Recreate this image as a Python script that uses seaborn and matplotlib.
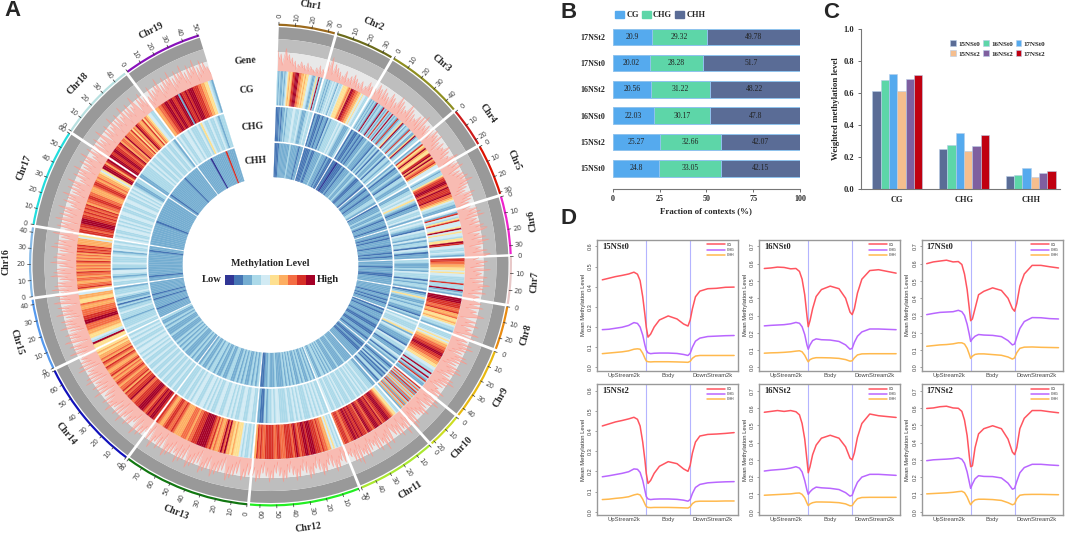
import numpy as np
import pandas as pd
import matplotlib
matplotlib.use("Agg")
import matplotlib.pyplot as plt
from matplotlib.patches import Patch
import seaborn as sns

W, H = 1065, 536
sns.set_style("white")
SERIF = "Liberation Serif"
plt.rcParams["font.family"] = ["Liberation Sans", "DejaVu Sans"]

# ---------- Panel A data ----------
chrom_names = ["Chr%d" % i for i in range(1, 20)]
chrom_start = [2.0, 16.2, 30.9, 50.4, 60.5, 73.5, 88.0, 100.0, 111.1, 129.3, 138.6, 158.5, 185.6, 216.9, 244.6, 262.4, 279.7, 303.9, 323.5]
chrom_end = [15.5, 30.2, 49.7, 59.8, 72.8, 87.4, 99.3, 110.4, 128.6, 137.9, 157.8, 184.9, 216.2, 243.9, 261.7, 279.0, 303.2, 322.8, 342.7]
chrom_mb = [34, 36, 47, 23, 31, 35, 28, 27, 45, 22, 50, 66, 80, 70, 43, 43, 60, 48, 51]
chrom_color = ["#9C6A1C", "#6B6B1B", "#8E8E20", "#CC1A1A", "#DD1100", "#EE22CC", "#E8C8C8", "#E88A10", "#E8B810", "#CCDD22",
               "#AAE830", "#22EE22", "#117711", "#1111BB", "#5599EE", "#88BBE8", "#22DDDD", "#B8E0E0", "#8811BB"]

cg_levels = [
    "3232232345656889997766565544322353932",
    "33232334343243345555676998877665454433",
    "32323293233293238323932328233592423328342259233",
    "2385696558969678644",
    "32335788998798889776543322",
    "4284358444594544355984433432",
    "887766554544333383339232",
    "99988877866755654332",
    "3334545667788998877665544339339328322",
    "83738273637283627362",
    "3345567889998879889998788997888988989988778887",
    "34345466778788899989988789878888777887788888778786",
    "343343455565669797667687899999888776777666678778876678",
    "899898789998887798878687767876768766786786766565",
    "559345566777998877766755664",
    "68776677677867676786767687878666645",
    "8878899988787878677887766678876766545998689",
    "99889988789677697776857698766857654433",
    "667788998998899298898999888776655432",
]
chg_levels = [
    "1112122323333443334322233433",
    "12112122132333343432223",
    "1211212122322213231322313323",
    "2312232133223",
    "223343453212243342",
    "3432143324233143122",
    "33222324333132332",
    "1235322323322132",
    "3433345243222143312243132",
    "2123131213312",
    "2233343343433433343334343334334",
    "33434343433343434334333344343323112",
    "3344334433434344334433434344334434334333",
    "3343343343343343343343434434334343",
    "33433332333433231322343332",
    "33432344233433343243343",
    "4343344343433443343344334343432233",
    "2233333434334334333433432",
    "3433443433343543343343233",
]
chh_levels = [
    "1112222222322222122",
    "1111211222232221211",
    "1101112122232232112221",
    "2122122332",
    "122232232122212",
    "2212122212221212",
    "2221222112222",
    "2222212212122",
    "1212221221122112212",
    "2112112222",
    "2222232222322232323233223",
    "2323223232232323232222322232211",
    "3232322323232233223223233232232",
    "2232322232323232223222323223",
    "2222212222212212222222",
    "2212222222222222122",
    "2222222222122222222222",
    "2122222222222122222222",
    "2222222202222222282222",
]
gene_levels = [
    "7462584635241324231413221314132",
    "6384263524132513241524131421325241",
    "426351625241635142736152437261524362718253625",
    "6274637251635473625482",
    "637485263748569473625184736251",
    "5274839264738597264839572648397",
    "5384729364827395738264",
    "4738264951738264918",
    "46283947261849372618394726184937261548372",
    "4829375162847362518294",
    "3729461837264158273946182735261837462918372534",
    "2615374826153748261537482615374836152748361527483615274836",
    "3627485162738495162738496273859162738495173829462738495173826495173",
    "5374826915374826491738264957382641937284619283746192837465",
    "6392748159374816293748162937481593748",
    "6392847163928471639258471639284716392",
    "5284719638274915382749163827491538274916382749153827",
    "4718362951738264917382649173826495173826",
    "3518263749162837491628374926183749162837452",
]
level_colors = ["#313695", "#4575B4", "#74ADD1", "#ABD9E9", "#D2EBF4", "#FEE090", "#FDAE61", "#F46D43", "#D73027", "#A50026"]

track_labels = ["Gene", "CG", "CHG", "CHH"]
track_label_theta = [-7.1, -7.6, -7.6, -8.0]
track_label_r = [205.5, 176.5, 139, 105]

# ---------- Panel B data ----------
b_samples = ["17NSt2", "17NSt0", "16NSt2", "16NSt0", "15NSt2", "15NSt0"]
b_cg = [20.9, 20.02, 20.56, 22.03, 25.27, 24.8]
b_chg = [29.32, 28.28, 31.22, 30.17, 32.66, 33.05]
b_chh = [49.78, 51.7, 48.22, 47.8, 42.07, 42.15]

# ---------- Panel C data ----------
c_contexts = ["CG", "CHG", "CHH"]
c_samples = ["15NSt0", "16NSt0", "17NSt0", "15NSt2", "16NSt2", "17NSt2"]
c_15t0 = [0.61, 0.25, 0.078]
c_16t0 = [0.685, 0.275, 0.085]
c_17t0 = [0.72, 0.35, 0.128]
c_15t2 = [0.61, 0.235, 0.072]
c_16t2 = [0.69, 0.27, 0.098]
c_17t2 = [0.715, 0.34, 0.11]
c_colors = ["#5A6C96", "#5DD6A8", "#55AAEE", "#F5BE8E", "#7F5F9F", "#C00010"]

# ---------- Panel D data ----------
d_pos = [0, 15, 30, 45, 60, 72, 80, 86, 92, 97, 100, 104, 110, 118, 130, 150, 170, 185, 195, 200, 205, 212, 222, 240, 260, 280, 300]
s15t0_cg = [.434, .442, .450, .456, .463, .472, .462, .430, .350, .260, .200, .150, .165, .200, .235, .255, .240, .215, .205, .235, .290, .350, .378, .390, .392, .397, .398]
s15t0_chg = [.187, .189, .194, .199, .208, .222, .218, .200, .160, .110, .085, .072, .068, .070, .071, .071, .069, .064, .059, .070, .100, .130, .145, .153, .155, .157, .158]
s15t0_chh = [.068, .071, .074, .077, .082, .090, .092, .090, .070, .045, .032, .028, .027, .028, .028, .028, .027, .026, .025, .030, .045, .056, .059, .059, .059, .059, .059]
s15t2_cg = [.425, .435, .445, .452, .460, .468, .458, .425, .345, .255, .190, .140, .155, .190, .225, .248, .238, .212, .200, .230, .290, .345, .375, .383, .385, .388, .392]
s15t2_chg = [.173, .178, .184, .190, .198, .212, .210, .195, .155, .105, .075, .063, .060, .062, .063, .063, .061, .057, .052, .060, .090, .120, .135, .143, .146, .148, .149]
s15t2_chh = [.060, .062, .066, .069, .074, .083, .087, .083, .062, .038, .025, .021, .020, .021, .021, .021, .020, .019, .018, .024, .040, .050, .052, .052, .052, .053, .053]
s16t0_cg = [.572, .575, .580, .578, .570, .572, .555, .510, .420, .300, .235, .270, .340, .410, .450, .470, .455, .400, .320, .305, .340, .430, .510, .560, .565, .555, .545]
s16t0_chg = [.240, .243, .245, .247, .252, .260, .255, .235, .190, .130, .105, .130, .155, .165, .160, .158, .150, .130, .105, .110, .145, .180, .205, .222, .222, .220, .218]
s16t0_chh = [.082, .084, .085, .087, .090, .094, .096, .090, .070, .045, .032, .045, .052, .056, .056, .055, .052, .045, .036, .038, .055, .072, .078, .079, .079, .079, .079]
s16t2_cg = [.575, .580, .585, .580, .585, .578, .560, .510, .420, .300, .225, .260, .330, .385, .425, .442, .425, .375, .310, .300, .340, .430, .510, .565, .555, .550, .545]
s16t2_chg = [.235, .240, .243, .246, .252, .260, .252, .230, .180, .125, .100, .115, .130, .142, .138, .135, .128, .110, .090, .095, .130, .170, .200, .216, .216, .213, .210]
s16t2_chh = [.095, .097, .099, .101, .103, .107, .108, .100, .080, .050, .035, .045, .052, .056, .056, .055, .052, .045, .034, .035, .055, .075, .082, .083, .083, .083, .083]
s17t0_cg = [.600, .610, .615, .620, .610, .612, .595, .540, .450, .340, .270, .280, .340, .420, .440, .460, .445, .400, .340, .325, .370, .470, .540, .590, .590, .582, .575]
s17t0_chg = [.305, .312, .318, .320, .322, .330, .322, .300, .250, .190, .150, .165, .180, .190, .187, .185, .178, .155, .130, .135, .175, .225, .265, .288, .287, .282, .280]
s17t0_chh = [.122, .126, .130, .132, .136, .142, .142, .135, .110, .075, .052, .065, .075, .078, .078, .074, .070, .060, .048, .055, .085, .110, .117, .118, .116, .115, .114]
s17t2_cg = [.597, .600, .607, .610, .600, .598, .580, .530, .440, .320, .260, .265, .370, .450, .480, .497, .480, .420, .345, .330, .370, .480, .540, .585, .585, .578, .572]
s17t2_chg = [.295, .300, .302, .304, .307, .312, .303, .280, .230, .170, .135, .160, .190, .208, .204, .203, .195, .165, .130, .135, .175, .225, .255, .274, .274, .270, .267]
s17t2_chh = [.103, .105, .107, .109, .112, .116, .118, .110, .085, .055, .040, .055, .068, .072, .072, .070, .065, .052, .040, .045, .075, .095, .099, .100, .100, .099, .098]
d_contexts = ["CG", "CHG", "CHH"]
d_colors = ["#FF5560", "#B966FF", "#FFB94D"]


def px_axes(left, top, right, bottom, **kw):
    return fig.add_axes([left / W, 1 - bottom / H, (right - left) / W, (bottom - top) / H], **kw)


def ftext(x, y, s, **kw):
    return fig.text(x / W, 1 - y / H, s, **kw)


fig = plt.figure(figsize=(W / 100, H / 100), dpi=100, facecolor="white")

# ---------- Panel A ----------
R_AX = 265
CX, CY = 270.5, 265
ax = px_axes(CX - R_AX, CY - R_AX, CX + R_AX, CY + R_AX, projection="polar")
ax.set_theta_zero_location("N")
ax.set_theta_direction(-1)
ax.set_rlim(0, R_AX)
ax.axis("off")
rings = [(cg_levels, 160, 194), (chg_levels, 124, 158), (chh_levels, 88, 122)]

for i, name in enumerate(chrom_names):
    t0, t1 = chrom_start[i], chrom_end[i]
    span = np.radians(t1 - t0)
    mid = np.radians((t0 + t1) / 2)
    for bottom, top, col in [(226, 238, "#999999"), (213, 226, "#BEBEBE"), (194, 213, "#E8E8E8")]:
        ax.bar(mid, top - bottom, width=span, bottom=bottom, color=col, linewidth=0)
    # gene density
    g = np.array([int(c) for c in gene_levels[i]], dtype=float)
    edges = np.radians(np.linspace(t0, t1, len(g)))
    ax.fill_between(edges, 194, 194 + 2.9 * g, color="#FFA89C", linewidth=0, alpha=0.7)
    ax.plot(edges, 194 + 2.9 * g, color="#FF8E80", lw=0.3, alpha=0.8)
    # heat rings
    for levels, rlo, rhi in rings:
        vals = [int(c) for c in levels[i]]
        n = len(vals)
        w = (t1 - t0) / n
        centres = np.radians(t0 + w * (np.arange(n) + 0.5))
        cols = [level_colors[v] for v in vals]
        ax.bar(centres, rhi - rlo, width=np.radians(w), bottom=rlo, color=cols, edgecolor=cols, linewidth=0.15)
    # ideogram + ticks
    ax.bar(mid, 2.2, width=span, bottom=239.3, color=chrom_color[i], linewidth=0)
    mb = chrom_mb[i]
    for tick in range(0, mb + 1, 10):
        th = t0 + (t1 - t0) * tick / mb
        tr = np.radians(th)
        ax.plot([tr, tr], [240, 243], color="#333333", lw=0.5)
        rot = 90 - th if th < 184 else 270 - th
        ax.text(tr, 249.5, str(tick), rotation=rot, rotation_mode="anchor", ha="center", va="center",
                fontsize=5, color="#444444", family="DejaVu Sans", clip_on=False)
    thm = (t0 + t1) / 2
    rot = -thm if thm < 78 else 180 - thm
    if thm > 265:
        rot = 360 - thm
        if thm < 275:
            rot = 90
    r_lab = 262.5 if thm < 30 or thm > 325 else 265
    ax.text(mid, r_lab, name, rotation=rot, rotation_mode="anchor", ha="center", va="center",
            fontsize=7, fontweight="bold", family=SERIF, clip_on=False)

for lab, th, r in zip(track_labels, track_label_theta, track_label_r):
    ax.text(np.radians(th), r, lab, ha="center", va="center", rotation=4,
            fontsize=7, fontweight="bold", family=SERIF)

ftext(270, 263, "Methylation Level", ha="center", va="center", fontsize=7.2, fontweight="bold", family=SERIF)
ftext(222, 280, "Low", ha="right", va="center", fontsize=7.6, fontweight="bold", family=SERIF)
ftext(317, 280, "High", ha="left", va="center", fontsize=7.6, fontweight="bold", family=SERIF)
cax = px_axes(225, 274.5, 315, 285)
sns.heatmap([list(range(10))], cmap=level_colors, cbar=False, xticklabels=False, yticklabels=False, ax=cax)

# ---------- Panel B ----------
axb = px_axes(612.7, 21, 800, 188.7)
b_df = pd.DataFrame({"sample": b_samples, "CG": b_cg, "CHG": b_chg, "CHH": b_chh})
b_colors = {"CG": "#55AAEE", "CHG": "#5DD6A8", "CHH": "#5A6C96"}
left = np.zeros(len(b_samples))
for ctx in ["CG", "CHG", "CHH"]:
    sns.barplot(data=b_df, x=ctx, y="sample", left=left, color=b_colors[ctx], width=0.63,
                edgecolor="#8FC3EE", linewidth=0.7, saturation=1, ax=axb)
    axb.bar_label(axb.containers[-1], labels=["%g" % v for v in b_df[ctx]], label_type="center",
                  fontsize=5.5, family=SERIF, color="#222222")
    left = left + b_df[ctx].values
axb.set_xlim(0, 100)
axb.set_ylim(5.77, -0.6)
for s in ["top", "right", "left"]:
    axb.spines[s].set_visible(False)
axb.spines["bottom"].set_color("#777777")
axb.spines["bottom"].set_linewidth(0.8)
axb.set_xticks([0, 25, 50, 75, 100])
axb.tick_params(axis="x", length=2.5, width=0.6, color="#555555", pad=2, bottom=True)
axb.tick_params(axis="y", length=0, pad=5)
for t in axb.get_xticklabels() + axb.get_yticklabels():
    t.set_fontfamily(SERIF)
    t.set_fontweight("bold")
    t.set_fontsize(5.8)
axb.set_ylabel("")
axb.set_xlabel("Fraction of contexts (%)", fontsize=6.4, fontweight="bold", family=SERIF, labelpad=3)
axb.legend(handles=[Patch(color=b_colors[k], label=k) for k in b_colors], ncol=3, frameon=False,
           loc="center left", bbox_to_anchor=(611 / W, 1 - 15 / H), bbox_transform=fig.transFigure,
           handlelength=1.05, handleheight=0.9, handletextpad=0.3, columnspacing=0.35, borderpad=0,
           prop={"family": SERIF, "weight": "bold", "size": 6})

# ---------- Panel C ----------
axc = px_axes(860.7, 29.3, 1060, 188.7)
c_df = pd.DataFrame({"context": c_contexts, "15NSt0": c_15t0, "16NSt0": c_16t0, "17NSt0": c_17t0,
                     "15NSt2": c_15t2, "16NSt2": c_16t2, "17NSt2": c_17t2})
c_long = c_df.melt(id_vars="context", var_name="sample", value_name="level")
sns.barplot(data=c_long, x="context", y="level", hue="sample", hue_order=c_samples, palette=c_colors,
            width=0.75, gap=0, saturation=1, edgecolor="#B7CDE8", linewidth=0.4, ax=axc)
axc.set_xlim(-0.55, 2.44)
axc.set_ylim(0, 1)
axc.set_yticks([0, .2, .4, .6, .8, 1.0])
axc.set_yticklabels(["0.0", "0.2", "0.4", "0.6", "0.8", "1.0"])
for s in ["top", "right"]:
    axc.spines[s].set_visible(False)
for s in ["left", "bottom"]:
    axc.spines[s].set_color("#777777")
    axc.spines[s].set_linewidth(0.8)
axc.tick_params(axis="y", length=2.5, width=0.6, color="#555555", pad=2, left=True)
axc.tick_params(axis="x", length=0, pad=5)
for t in axc.get_xticklabels() + axc.get_yticklabels():
    t.set_fontfamily(SERIF)
    t.set_fontweight("bold")
    t.set_fontsize(6)
axc.set_xlabel("")
axc.set_ylabel("Weighted methylation level", fontsize=6.4, fontweight="bold", family=SERIF, labelpad=3)
handles, labels = axc.get_legend_handles_labels()
order = [0, 3, 1, 4, 2, 5]
axc.legend([handles[i] for i in order], [labels[i] for i in order], ncol=3, frameon=False,
           loc="center left", bbox_to_anchor=(947 / W, 1 - 48.5 / H), bbox_transform=fig.transFigure,
           handlelength=0.75, handleheight=0.85, handletextpad=0.35, columnspacing=0.5, labelspacing=0.55, borderpad=0,
           prop={"family": SERIF, "weight": "bold", "size": 5})

# ---------- Panel D ----------
panels = [
    ("15NSt0", (s15t0_cg, s15t0_chg, s15t0_chh), 597.3, 239.7, 0.6),
    ("16NSt0", (s16t0_cg, s16t0_chg, s16t0_chh), 759.3, 239.7, 0.7),
    ("17NSt0", (s17t0_cg, s17t0_chg, s17t0_chh), 921.7, 239.7, 0.7),
    ("15NSt2", (s15t2_cg, s15t2_chg, s15t2_chh), 597.3, 384.0, 0.6),
    ("16NSt2", (s16t2_cg, s16t2_chg, s16t2_chh), 759.3, 384.0, 0.7),
    ("17NSt2", (s17t2_cg, s17t2_chg, s17t2_chh), 921.7, 384.0, 0.7),
]
for name, series, left_px, top_px, ymax in panels:
    a = px_axes(left_px, top_px, left_px + 141, top_px + 131.3)
    long = pd.concat([pd.DataFrame({"pos": d_pos, "level": v, "context": c}) for v, c in zip(series, d_contexts)])
    sns.lineplot(data=long, x="pos", y="level", hue="context", hue_order=d_contexts, palette=d_colors,
                 lw=1.1, errorbar=None, ax=a)
    a.axvline(100, color="#B4B4FF", lw=0.8, zorder=0)
    a.axvline(200, color="#B4B4FF", lw=0.8, zorder=0)
    a.set_xlim(-11.4, 309.5)
    a.set_ylim(-0.03 * ymax, 1.055 * ymax)
    a.set_xticks([50, 150, 250])
    a.set_xticklabels(["UpStream2k", "Body", "DownStream2k"])
    yt = np.arange(0, ymax + 0.01, 0.1)
    a.set_yticks(yt)
    a.set_yticklabels(["%.1f" % v for v in yt], rotation=90, va="center")
    a.tick_params(axis="x", length=0, pad=1.5, labelsize=4.2, labelcolor="#444444")
    a.tick_params(axis="y", length=1.5, width=0.4, pad=1.5, labelsize=4, labelcolor="#444444", color="#555555", left=True)
    for s in a.spines.values():
        s.set_color("#999999")
        s.set_linewidth(1.0)
    a.set_xlabel("")
    a.set_ylabel("Mean Methylation Level", fontsize=4.2, color="#333333", labelpad=1.5)
    a.text(0.035, 0.945, name, transform=a.transAxes, ha="left", va="center",
           fontsize=6.2, fontweight="bold", family=SERIF)
    a.legend(loc="upper right", frameon=False, fontsize=2.6, title=None, borderpad=0.3,
             bbox_to_anchor=(0.995, 1.0), handlelength=5, labelspacing=0.35, handletextpad=0.6)

# ---------- Panel letters ----------
for s, x, y in [("A", 4, 11), ("B", 561, 12), ("C", 823, 12), ("D", 560, 219)]:
    ftext(x, y, s, fontsize=16, fontweight="bold", va="center", ha="left", family="Liberation Sans")

fig.savefig("out.png", dpi=100, facecolor="white")
